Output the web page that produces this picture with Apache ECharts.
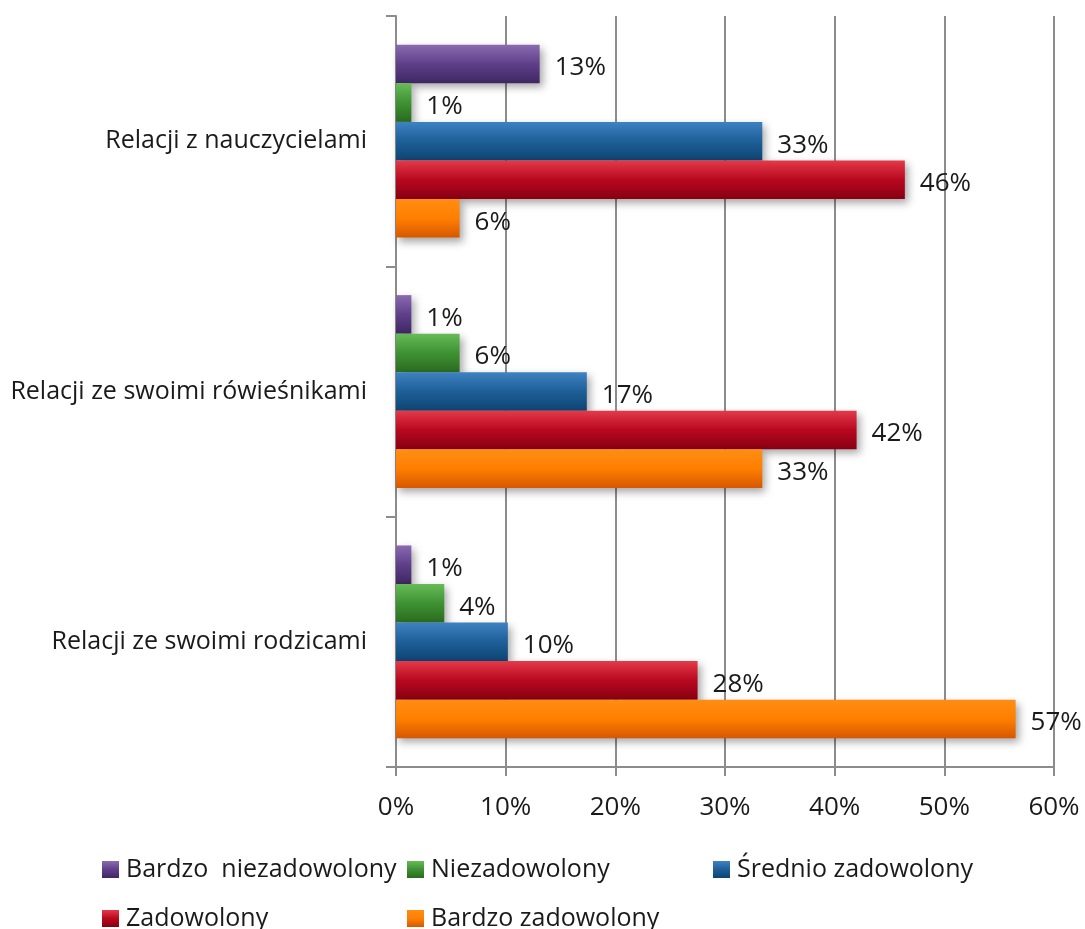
<!DOCTYPE html>
<html>
<head>
<meta charset="utf-8">
<script src="https://cdn.jsdelivr.net/npm/echarts@6/dist/echarts.min.js"></script>
<style>html,body{margin:0;padding:0;background:#fff}#c{width:1085px;height:929px}</style>
</head>
<body>
<div id="c"></div>
<script>
var categories = ["Relacji z nauczycielami", "Relacji ze swoimi rówieśnikami", "Relacji ze swoimi rodzicami"];
var seriesNames = ["Bardzo  niezadowolony", "Niezadowolony", "Średnio zadowolony", "Zadowolony", "Bardzo zadowolony"];
var bardzoNiezadowolony = [13.1, 1.4, 1.4];
var niezadowolony = [1.4, 5.8, 4.4];
var srednioZadowolony = [33.4, 17.4, 10.2];
var zadowolony = [46.4, 42.0, 27.5];
var bardzoZadowolony = [5.8, 33.4, 56.5];
var xTicks = [0, 10, 20, 30, 40, 50, 60];

var values = [bardzoNiezadowolony, niezadowolony, srednioZadowolony, zadowolony, bardzoZadowolony];
var grads = [
  ["#8a6bb0", "#5f3f8a", "#3e2762"],
  ["#66bb57", "#3f9233", "#2a6b1f"],
  ["#3f82c2", "#1d5f98", "#0d4472"],
  ["#e43a49", "#b8081f", "#870012"],
  ["#ff8d14", "#ff7f00", "#d65800"]
];
function grad(g) {
  return new echarts.graphic.LinearGradient(0, 0, 0, 1, [
    {offset: 0, color: g[0]}, {offset: 0.5, color: g[1]}, {offset: 1, color: g[2]}
  ]);
}
var font = "'Open Sans', 'Noto Sans', sans-serif";
var series = values.map(function (v, i) {
  return {
    name: seriesNames[i],
    type: 'bar',
    data: v,
    barGap: '0%',
    barCategoryGap: '23%',
    itemStyle: {
      color: grad(grads[i]),
      shadowColor: 'rgba(0,0,0,0.35)',
      shadowBlur: 8,
      shadowOffsetX: 3,
      shadowOffsetY: 4
    },
    label: {
      show: true,
      position: 'right',
      distance: 15,
      offset: [0, 4],
      fontSize: 26,
      fontFamily: font,
      color: '#1a1a1a',
      formatter: function (p) { return Math.round(p.value) + '%'; }
    }
  };
});
var legendPos = [[102, 857], [407, 857], [713, 857], [102, 906], [407, 906]];
var legends = seriesNames.map(function (n, i) {
  return {
    data: [n],
    left: legendPos[i][0],
    top: legendPos[i][1],
    padding: 0,
    itemWidth: 17,
    itemHeight: 17,
    itemGap: 8,
    icon: 'rect',
    textStyle: {fontSize: 25, fontFamily: font, color: '#1a1a1a', padding: [0, 0, 0, 2]},
    selectedMode: false
  };
});
var chart = echarts.init(document.getElementById('c'));
chart.setOption({
  animation: false,
  legend: legends,
  grid: {left: 396, right: 31, top: 16, bottom: 162, containLabel: false},
  xAxis: {
    type: 'value',
    min: xTicks[0],
    max: xTicks[xTicks.length - 1],
    interval: 10,
    axisLine: {show: true, lineStyle: {color: '#8c8c8c', width: 2}},
    axisTick: {show: true, length: 9, lineStyle: {color: '#8c8c8c', width: 2}},
    splitLine: {show: true, lineStyle: {color: '#8c8c8c', width: 2}},
    axisLabel: {formatter: '{value}%', fontSize: 26, fontFamily: font, color: '#1a1a1a', margin: 28}
  },
  yAxis: {
    type: 'category',
    inverse: true,
    data: categories,
    axisLine: {show: true, lineStyle: {color: '#8c8c8c', width: 2}},
    axisTick: {show: true, length: 10, lineStyle: {color: '#8c8c8c', width: 2}},
    axisLabel: {fontSize: 25, fontFamily: font, color: '#1a1a1a', margin: 29}
  },
  series: series
});
</script>
</body>
</html>
